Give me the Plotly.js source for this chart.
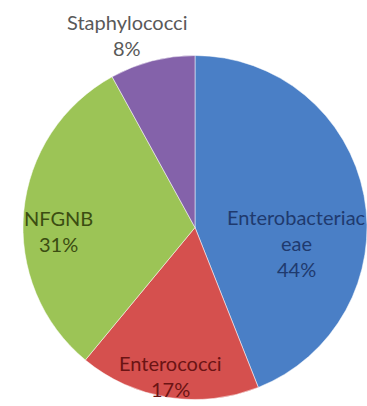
<!DOCTYPE html>
<html>
<head>
<meta charset="utf-8">
<script src="https://cdn.plot.ly/plotly-3.0.1.min.js"></script>
<style>html,body{margin:0;padding:0;background:#fff;overflow:hidden}#chart{width:367px;height:406px}</style>
</head>
<body>
<div id="chart"></div>
<script>
const labels = ["Enterobacteriaceae", "Enterococci", "NFGNB", "Staphylococci"];
const labelLines = [["Enterobacteriac", "eae"], ["Enterococci"], ["NFGNB"], ["Staphylococci"]];
const values = [44, 17, 31, 8];
const colors = ["#4a7fc6", "#d5504e", "#9cc456", "#8462aa"];
const textColors = ["#1f3a6e", "#6b1414", "#3b4d12", "#595959"];
// label block centre positions (pixels in the figure)
const labelPos = [[296, 243], [170, 376], [58, 231], [127, 35]];
const lineGap = 26;

const W = 367, H = 406, M = {l: 23, r: 0, t: 55, b: 6};
const pw = W - M.l - M.r, ph = H - M.t - M.b;
const total = values.reduce((a, b) => a + b, 0);
const annotations = [];
labels.forEach((l, i) => {
  const lines = labelLines[i].concat([Math.round(values[i] / total * 100) + "%"]);
  const n = lines.length;
  lines.forEach((t, k) => {
    const py = labelPos[i][1] + (k - (n - 1) / 2) * lineGap;
    annotations.push({
      x: (labelPos[i][0] - M.l) / pw, y: (H - M.b - py) / ph,
      xref: "paper", yref: "paper", xanchor: "center", yanchor: "middle",
      showarrow: false, text: t,
      font: {family: "Lato, 'Open Sans', sans-serif", size: 20, color: textColors[i]}
    });
  });
});

Plotly.newPlot("chart", [{
  type: "pie",
  labels: labels,
  values: values,
  sort: false,
  direction: "clockwise",
  rotation: 0,
  textinfo: "none",
  hoverinfo: "label+percent",
  marker: {colors: colors, line: {color: "rgba(255,255,255,0.5)", width: 1}}
}], {
  width: W, height: H,
  margin: M,
  showlegend: false,
  paper_bgcolor: "#ffffff",
  annotations: annotations
}, {staticPlot: true});
</script>
</body>
</html>
